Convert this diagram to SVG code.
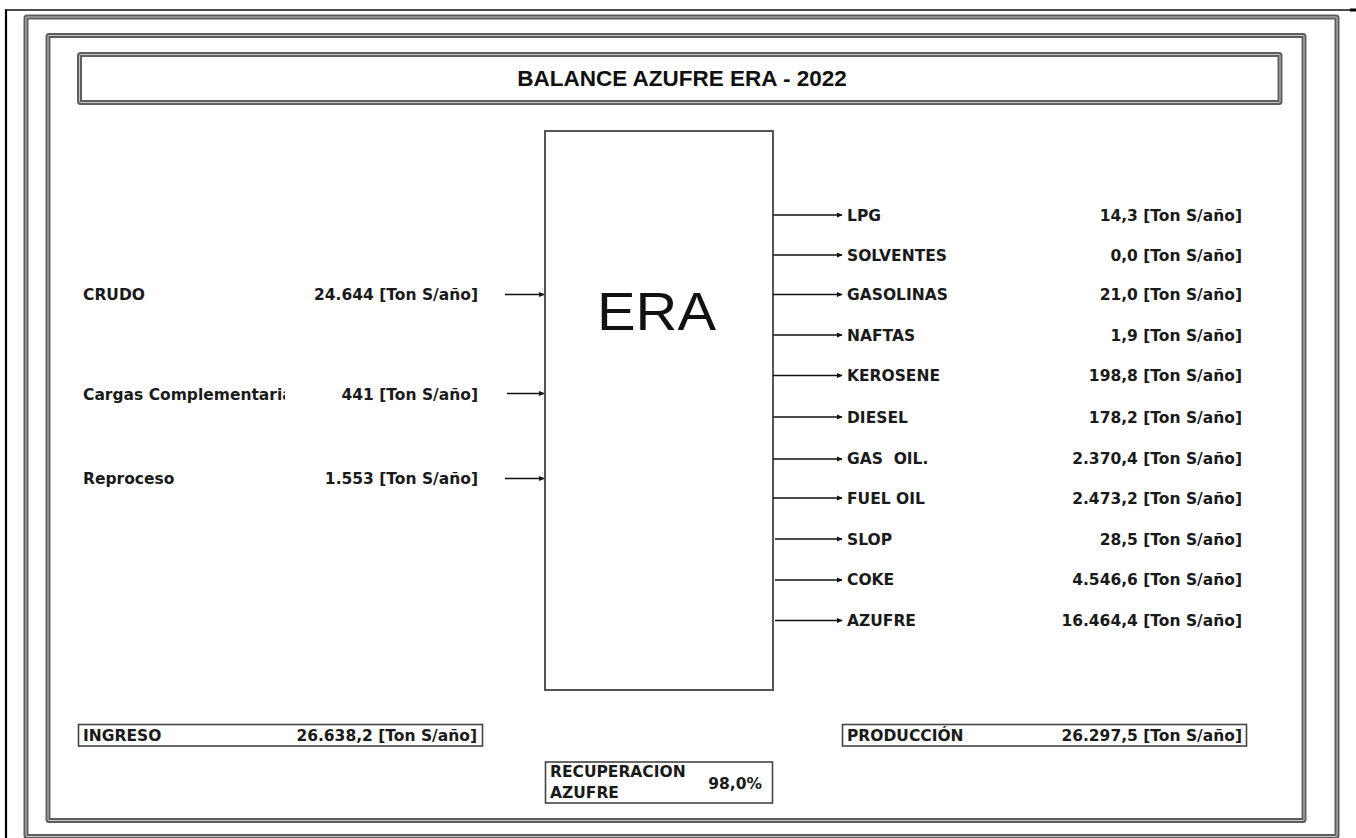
<svg xmlns="http://www.w3.org/2000/svg" width="1356" height="838" viewBox="0 0 1356 838">
<style>
.frame{fill:none;stroke:#5e5e5e;stroke-width:5}
.frameIn{fill:none;stroke:#c4c4c4;stroke-width:1}
.box{fill:#fff;stroke:#555;stroke-width:2}
.sbox{fill:#fff;stroke:#444;stroke-width:1.6}
.lbl{font-family:"DejaVu Sans",Verdana,sans-serif;font-weight:bold;font-size:15.5px;fill:#1a1a1a}
.val{font-family:"DejaVu Sans",Verdana,sans-serif;font-weight:bold;font-size:15.5px;fill:#1a1a1a;text-anchor:end}
.arr{stroke:#111;stroke-width:1.5;fill:none;marker-end:url(#ah)}
</style>
<defs>
<marker id="ah" viewBox="0 0 8 8" refX="7" refY="4" markerWidth="6.5" markerHeight="6" orient="auto" markerUnits="userSpaceOnUse">
<path d="M0,0.5 L8,4 L0,7.5 z" fill="#111"/>
</marker>
<clipPath id="clipCargas"><rect x="70" y="380" width="215" height="30"/></clipPath>
</defs>
<rect width="1356" height="838" fill="#fff"/>
<g id="page-lines">
<line x1="5" y1="10" x2="1356" y2="10" stroke="#111" stroke-width="1.5"/>
<line x1="1350" y1="10" x2="1356" y2="10" stroke="#000" stroke-width="3"/>
<line x1="6" y1="9.5" x2="6" y2="838" stroke="#000" stroke-width="2.2"/>
</g>
<g id="frames">
<rect class="frame" x="26" y="17" width="1311" height="819.5" rx="1"/>
<rect class="frameIn" x="26" y="17" width="1311" height="819.5" rx="1"/>
<rect class="frame" x="48" y="35.5" width="1256" height="785" rx="1"/>
<rect class="frameIn" x="48" y="35.5" width="1256" height="785" rx="1"/>
</g>
<g id="title">
<rect class="frame" x="79.5" y="54.5" width="1200.5" height="48" rx="1"/>
<rect class="frameIn" x="79.5" y="54.5" width="1200.5" height="48" rx="1"/>
<text x="682" y="86" text-anchor="middle" font-family="'Liberation Sans',Arial,sans-serif" font-weight="bold" font-size="22.5" fill="#111">BALANCE AZUFRE ERA - 2022</text>
</g>
<g id="era">
<rect class="box" x="545" y="131" width="228" height="559"/>
<text x="656.5" y="330" text-anchor="middle" font-family="'Liberation Sans',Arial,sans-serif" font-size="54" fill="#111" textLength="119" lengthAdjust="spacingAndGlyphs">ERA</text>
</g>
<g id="connectors">
<line class="arr" x1="505" y1="294.5" x2="544" y2="294.5"/>
<line class="arr" x1="507" y1="393.5" x2="544" y2="393.5"/>
<line class="arr" x1="505" y1="478.5" x2="544" y2="478.5"/>
<line class="arr" x1="773" y1="215" x2="842" y2="215"/>
<line class="arr" x1="773" y1="255" x2="842" y2="255"/>
<line class="arr" x1="773" y1="294.5" x2="842" y2="294.5"/>
<line class="arr" x1="773" y1="335" x2="842" y2="335"/>
<line class="arr" x1="773" y1="375.5" x2="842" y2="375.5"/>
<line class="arr" x1="773" y1="417" x2="842" y2="417"/>
<line class="arr" x1="773" y1="459" x2="842" y2="459"/>
<line class="arr" x1="773" y1="498" x2="842" y2="498"/>
<line class="arr" x1="775" y1="539" x2="842" y2="539"/>
<line class="arr" x1="775" y1="580" x2="842" y2="580"/>
<line class="arr" x1="775" y1="620.5" x2="842" y2="620.5"/>
</g>
<g id="in-crudo">
<text class="lbl" x="83" y="300">CRUDO</text>
<text class="val" x="478" y="300">24.644 [Ton S/año]</text>
</g>
<g id="in-cargas">
<text class="lbl" x="83" y="400" clip-path="url(#clipCargas)">Cargas Complementaria</text>
<text class="val" x="478" y="400">441 [Ton S/año]</text>
</g>
<g id="in-reproceso">
<text class="lbl" x="83" y="484">Reproceso</text>
<text class="val" x="478" y="484">1.553 [Ton S/año]</text>
</g>
<g id="out-lpg"><text class="lbl" x="847" y="220.5">LPG</text><text class="val" x="1242" y="220.5">14,3 [Ton S/año]</text></g>
<g id="out-solventes"><text class="lbl" x="847" y="260.5">SOLVENTES</text><text class="val" x="1242" y="260.5">0,0 [Ton S/año]</text></g>
<g id="out-gasolinas"><text class="lbl" x="847" y="300">GASOLINAS</text><text class="val" x="1242" y="300">21,0 [Ton S/año]</text></g>
<g id="out-naftas"><text class="lbl" x="847" y="340.5">NAFTAS</text><text class="val" x="1242" y="340.5">1,9 [Ton S/año]</text></g>
<g id="out-kerosene"><text class="lbl" x="847" y="381">KEROSENE</text><text class="val" x="1242" y="381">198,8 [Ton S/año]</text></g>
<g id="out-diesel"><text class="lbl" x="847" y="422.5">DIESEL</text><text class="val" x="1242" y="422.5">178,2 [Ton S/año]</text></g>
<g id="out-gasoil"><text class="lbl" x="847" y="464" xml:space="preserve">GAS  OIL.</text><text class="val" x="1242" y="464">2.370,4 [Ton S/año]</text></g>
<g id="out-fueloil"><text class="lbl" x="847" y="503.5">FUEL OIL</text><text class="val" x="1242" y="503.5">2.473,2 [Ton S/año]</text></g>
<g id="out-slop"><text class="lbl" x="847" y="544.5">SLOP</text><text class="val" x="1242" y="544.5">28,5 [Ton S/año]</text></g>
<g id="out-coke"><text class="lbl" x="847" y="585">COKE</text><text class="val" x="1242" y="585">4.546,6 [Ton S/año]</text></g>
<g id="out-azufre"><text class="lbl" x="847" y="625.5">AZUFRE</text><text class="val" x="1242" y="625.5">16.464,4 [Ton S/año]</text></g>
<g id="ingreso">
<rect class="sbox" x="78.5" y="724.5" width="404" height="21.5"/>
<text class="lbl" x="83" y="741">INGRESO</text>
<text class="val" x="477" y="741">26.638,2 [Ton S/año]</text>
</g>
<g id="produccion">
<rect class="sbox" x="842.5" y="724.5" width="404" height="21.5"/>
<text class="lbl" x="847" y="741">PRODUCCIÓN</text>
<text class="val" x="1242" y="741">26.297,5 [Ton S/año]</text>
</g>
<g id="recuperacion">
<rect class="sbox" x="545.5" y="762" width="227" height="41"/>
<text class="lbl" x="550" y="777">RECUPERACION</text>
<text class="lbl" x="550" y="798">AZUFRE</text>
<text class="val" x="762" y="789">98,0%</text>
</g>
</svg>
